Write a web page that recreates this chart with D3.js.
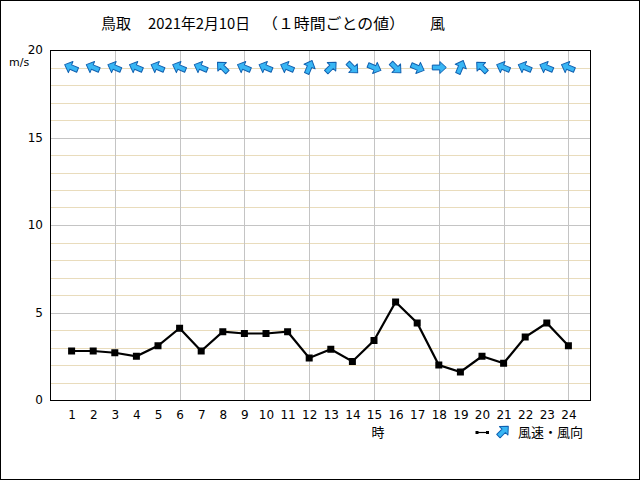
<!DOCTYPE html>
<html><head><meta charset="utf-8">
<script src="https://cdn.jsdelivr.net/npm/d3@7"></script>
<style>body{margin:0;background:#fff}svg{display:block}</style>
</head><body>
<svg id="c" width="640" height="480"></svg>
<script>
const hours = [1,2,3,4,5,6,7,8,9,10,11,12,13,14,15,16,17,18,19,20,21,22,23,24];
const speed = [2.8,2.8,2.7,2.5,3.1,4.1,2.8,3.9,3.8,3.8,3.9,2.4,2.9,2.2,3.4,5.6,4.4,2.0,1.6,2.5,2.1,3.6,4.4,3.1];
const direction = ["東南東","東南東","東南東","東南東","東南東","東南東","東南東","南東","東南東","東南東","東南東","南南西",
  "南西","北西","西北西","北西","西北西","西","南南西","南東","東南東","東南東","東南東","東南東"];
const yTicks = [0,5,10,15,20];
const compass = ["北","北北東","北東","東北東","東","東南東","南東","南南東","南","南南西","南西","西南西","西","西北西","北西","北北西"];

const svg = d3.select("#c");
const L=50, R=590, T=50, B=400;
const x = d3.scaleLinear().domain([0,25]).range([L,R]);
const y = d3.scaleLinear().domain([0,20]).range([B,T]);
const jp = "'Noto Sans CJK JP', sans-serif";
const num = "'DejaVu Sans', sans-serif";

svg.append("rect").attr("x",0.5).attr("y",0.5).attr("width",639).attr("height",479)
  .attr("fill","#fff").attr("stroke","#000");

// grid
const g = svg.append("g").attr("shape-rendering","crispEdges");
d3.range(1,20).filter(v=>v%5!==0).forEach(v=>{
  g.append("line").attr("x1",L).attr("x2",R).attr("y1",Math.round(y(v))+0.5).attr("y2",Math.round(y(v))+0.5)
   .attr("stroke","#e9dcbc");
});
[5,10,15].forEach(v=>{
  g.append("line").attr("x1",L).attr("x2",R).attr("y1",Math.round(y(v))+0.5).attr("y2",Math.round(y(v))+0.5)
   .attr("stroke","#c4c4c4");
});
d3.range(3,25,3).forEach(h=>{
  g.append("line").attr("y1",T).attr("y2",B).attr("x1",Math.round(x(h))+0.5).attr("x2",Math.round(x(h))+0.5)
   .attr("stroke","#c4c4c4");
});
g.append("rect").attr("x",L+0.5).attr("y",T+0.5).attr("width",R-L).attr("height",B-T)
  .attr("fill","none").attr("stroke","#000");

// y axis labels
const yAxis = d3.axisLeft(y).tickValues(yTicks).tickSize(0).tickPadding(7);
const ya = svg.append("g").attr("transform",`translate(${L},0)`).call(yAxis);
ya.select(".domain").remove();
ya.selectAll("text").attr("font-family",num).attr("font-size",12).attr("fill","#000");
svg.append("text").attr("x",9).attr("y",66).text("m/s").attr("font-family",num).attr("font-size",11);

// x axis labels
const xAxis = d3.axisBottom(x).tickValues(hours).tickSize(0).tickPadding(10).tickFormat(d3.format("d"));
const xa = svg.append("g").attr("transform",`translate(0,${B})`).call(xAxis);
xa.select(".domain").remove();
xa.selectAll("text").attr("font-family",num).attr("font-size",12).attr("fill","#000");
svg.append("text").attr("x",x(15)+4).attr("y",437).attr("text-anchor","middle").text("時")
  .attr("font-family",jp).attr("font-size",13);

// title
const tt = [["鳥取",101,30],["2021年2月10日",148,102],["（１時間ごとの値）",262,143],["風",430,15]];
tt.forEach(([t,px,w])=>svg.append("text").attr("x",px).attr("y",29).text(t)
  .attr("textLength",w).attr("lengthAdjust","spacingAndGlyphs")
  .attr("font-family",jp).attr("font-size",15).attr("fill","#000"));

// line
const line = d3.line().x((d,i)=>x(hours[i])).y(d=>y(d));
svg.append("path").datum(speed).attr("d",line).attr("fill","none").attr("stroke","#000").attr("stroke-width",2.2);
svg.selectAll("rect.m").data(speed).enter().append("rect").attr("class","m")
  .attr("x",(d,i)=>x(hours[i])-3.5).attr("y",d=>y(d)-3.5).attr("width",7).attr("height",7).attr("fill","#000");

// arrows
const arrowPath = "M0,-7.5 L6,-1 L2.4,-1 L2.4,6.5 L-2.4,6.5 L-2.4,-1 L-6,-1 Z";
function drawArrow(cx,cy,from){
  const deg = compass.indexOf(from)*22.5 + 180;
  svg.append("path").attr("d",arrowPath)
    .attr("transform",`translate(${cx},${cy}) rotate(${deg})`)
    .attr("fill","#38b6f4").attr("stroke","#1060b0").attr("stroke-width",1).attr("stroke-linejoin","round");
}
direction.forEach((d,i)=>drawArrow(x(hours[i]),67.5,d));

// legend
const lg = svg.append("g");
lg.append("line").attr("x1",477).attr("x2",487).attr("y1",432.5).attr("y2",432.5).attr("stroke","#000").attr("stroke-width",1.2);
lg.append("rect").attr("x",475.5).attr("y",431).attr("width",3).attr("height",3);
lg.append("rect").attr("x",486).attr("y",431).attr("width",3).attr("height",3);
drawArrow(503,431.5,"南西");
svg.append("text").attr("x",518).attr("y",437).text("風速・風向").attr("font-family",jp).attr("font-size",13);
</script>
</body></html>
